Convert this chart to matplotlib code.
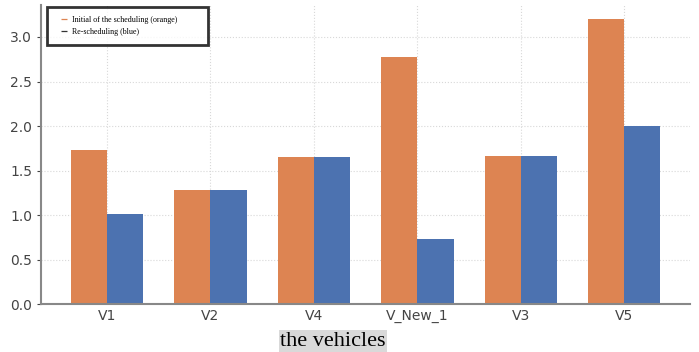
import numpy as np
import matplotlib.pyplot as plt
from matplotlib.lines import Line2D

vehicles = ["V1", "V2", "V4", "V_New_1", "V3", "V5"]
initial = [1.73, 1.28, 1.65, 2.77, 1.66, 3.20]
rescheduled = [1.01, 1.28, 1.65, 0.73, 1.66, 2.00]

orange = "#DD8452"
blue = "#4C72B0"

fig, ax = plt.subplots(figsize=(6.99, 3.52), dpi=100)
fig.subplots_adjust(left=0.059, right=0.987, bottom=0.136, top=0.986)

x = np.arange(len(vehicles))
w = 0.35
ax.bar(x - w / 2, initial, w, color=orange)
ax.bar(x + w / 2, rescheduled, w, color=blue)

ax.set_xticks(x)
ax.set_xticklabels(vehicles)
ax.grid(True, color="#d8d8d8", linestyle=":", linewidth=0.8)
ax.set_axisbelow(True)
for s in ["top", "right"]:
    ax.spines[s].set_visible(False)
for s in ["left", "bottom"]:
    ax.spines[s].set_color("#888888")
    ax.spines[s].set_linewidth(1.5)
ax.tick_params(colors="#444444", labelsize=10, length=3)
ax.tick_params(axis="x", length=0)

ax.set_xlabel("the vehicles", family="Liberation Serif", fontsize=16,
              bbox=dict(facecolor="#d9d9d9", edgecolor="none", pad=1))
ax.xaxis.set_label_coords(0.45, -0.092)

# short dash handles, drawn as markers so they sit in the middle of the handle box
handles = [Line2D([], [], ls="none", marker="_", ms=4, mew=0.9, mec=orange),
           Line2D([], [], ls="none", marker="_", ms=4, mew=0.9, mec="#333333")]
leg = ax.legend(handles, ["Initial of the scheduling (orange)", "Re-scheduling (blue)"],
                loc="upper left", bbox_to_anchor=(0.009, 0.993, 0.248, 0), mode="expand",
                prop={"family": "Liberation Serif", "size": 5.8},
                fancybox=False, frameon=True, handlelength=1.8, borderpad=1.15,
                borderaxespad=0, labelspacing=0.45, handletextpad=0.15)
leg.get_frame().set_edgecolor("black")
leg.get_frame().set_linewidth(2)

fig.savefig("out.png", dpi=100)
